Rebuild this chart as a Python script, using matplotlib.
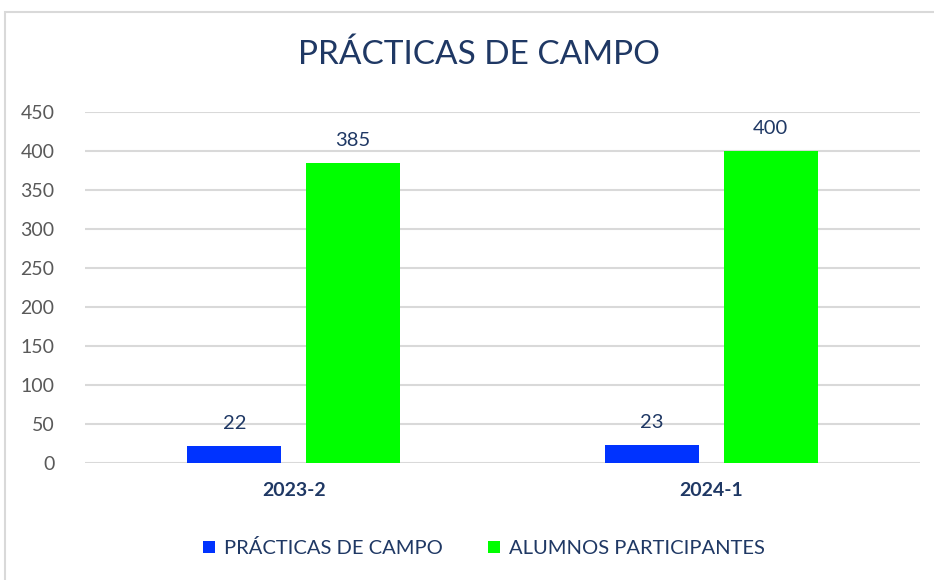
import numpy as np
import matplotlib.pyplot as plt
from matplotlib.patches import Rectangle

plt.rcParams['font.family'] = ['Lato', 'DejaVu Sans']

periodos = ['2023-2', '2024-1']
practicas = [22, 23]
alumnos = [385, 400]
series = ['PRÁCTICAS DE CAMPO', 'ALUMNOS PARTICIPANTES']
yticks = [0, 50, 100, 150, 200, 250, 300, 350, 400, 450]

azul = '#0033FF'
verde = '#00FF00'
navy = '#1F3864'
gris = '#595959'

fig = plt.figure(figsize=(9.34, 5.8), dpi=100)
fig.patches.append(Rectangle((5/934, -0.1), 1.1, 1 - 12/580 + 0.1, transform=fig.transFigure,
                             fill=False, edgecolor='#D9D9D9', linewidth=1.5))
ax = fig.add_axes([85/934, 1 - 463/580, 835/934, 351/580])

x = np.arange(len(periodos))
w = 0.225
off = 0.1425
b1 = ax.bar(x - off, practicas, w, color=azul, label=series[0], zorder=3)
b2 = ax.bar(x + off, alumnos, w, color=verde, label=series[1], zorder=3)

for bars, vals in ((b1, practicas), (b2, alumnos)):
    for b, v in zip(bars, vals):
        ax.text(b.get_x() + b.get_width()/2, v + 18, str(v), ha='center', va='bottom',
                fontsize=14.5, color=navy)

ax.set_xlim(-0.5, 1.5)
ax.set_ylim(0, 450)
ax.set_yticks(yticks)
ax.set_xticks(x)
ax.set_xticklabels(periodos, fontsize=14, fontweight='bold', color=navy)
ax.tick_params(axis='y', labelsize=14, labelcolor=gris, length=0, pad=22)
ax.tick_params(axis='x', length=0, pad=14)
ax.grid(axis='y', color='#D9D9D9', linewidth=1.5, zorder=0)
for s in ax.spines.values():
    s.set_visible(False)

fig.text(479/934, 1 - 55/580, 'PRÁCTICAS DE CAMPO', ha='center', va='center',
         fontsize=24, color=navy)

leg = fig.legend(handles=[b1, b2], labels=series, loc='center', bbox_to_anchor=(484/934, 1 - 548/580),
                 ncol=2, frameon=False, fontsize=14.5, handlelength=0.6, handleheight=0.6,
                 handletextpad=0.45, columnspacing=2.2)
for t in leg.get_texts():
    t.set_color(navy)

fig.savefig('out.png', dpi=100)
